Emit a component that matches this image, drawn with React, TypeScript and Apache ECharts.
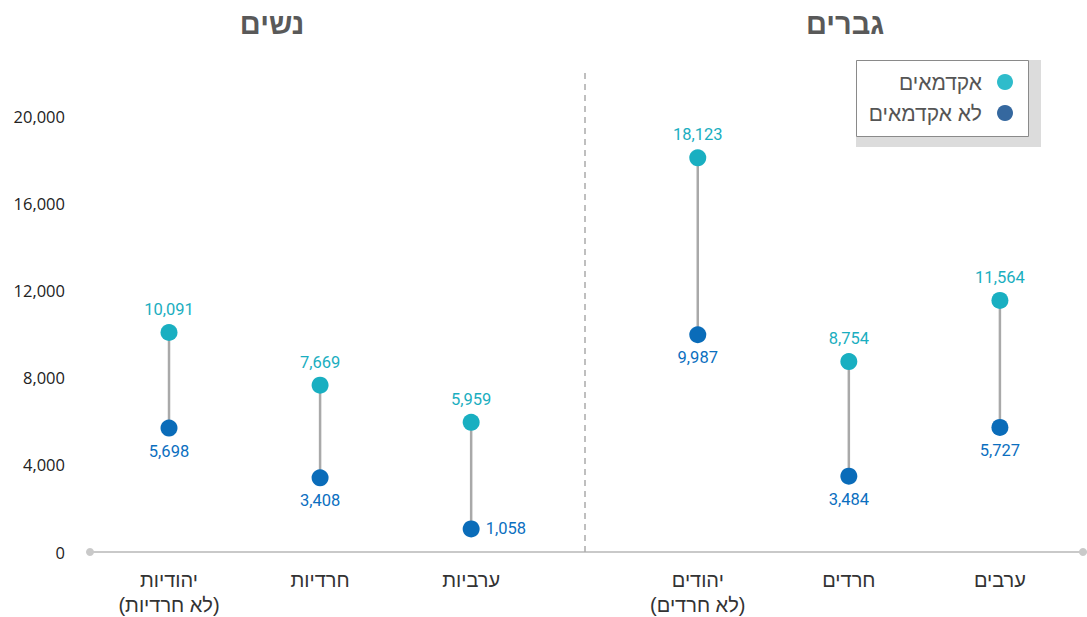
import React, { useEffect, useRef } from "react";
import * as echarts from "echarts";

const categories = ["יהודיות\n(לא חרדיות)", "חרדיות", "ערביות", "יהודים\n(לא חרדים)", "חרדים", "ערבים"];
const xPositions = [0, 1, 2, 3.5, 4.5, 5.5];
const academic = [10091, 7669, 5959, 18123, 8754, 11564];
const nonAcademic = [5698, 3408, 1058, 9987, 3484, 5727];
const seriesNames = ["אקדמאים", "לא אקדמאים"];
const groupTitles = ["נשים", "גברים"];
const dividerX = 2.75;

const HEB = "'Liberation Sans', Arial, sans-serif";
const NUM = "Roboto, 'Open Sans', sans-serif";
const AXISNUM = "'Open Sans', sans-serif";
const TEAL = "#19afc1";
const BLUE = "#0a6cb9";

export default function App() {
  const ref = useRef<HTMLDivElement>(null);
  useEffect(() => {
    if (!ref.current) return;
    const chart = echarts.init(ref.current, null, { renderer: "svg" });
    const fmt = (v: number) => v.toLocaleString("en-US");
    const option: any = {
      animation: false,
      textStyle: { fontFamily: HEB },
      grid: { left: 90, right: 4, top: 68, bottom: 63 },
      xAxis: {
        type: "value",
        min: -0.523,
        max: 6.05,
        splitLine: { show: false },
        axisTick: { show: false },
        axisLine: {
          show: true,
          symbol: ["circle", "circle"],
          symbolSize: [8, 8],
          lineStyle: { color: "#c9c9c9", width: 2 },
        },
        axisLabel: {
          customValues: xPositions,
          formatter: (v: number) => {
            const i = xPositions.findIndex((p) => Math.abs(p - v) < 1e-6);
            return i >= 0 ? categories[i] : "";
          },
          color: "#333",
          fontSize: 20,
          lineHeight: 25,
          margin: 15,
          fontFamily: HEB,
        },
      },
      yAxis: {
        type: "value",
        min: 0,
        max: 22250,
        interval: 4000,
        splitLine: { show: false },
        axisTick: { show: false },
        axisLine: { show: false },
        axisLabel: {
          showMaxLabel: false,
          formatter: (v: number) => fmt(v),
          color: "#222",
          fontSize: 16.5,
          margin: 25,
          fontFamily: AXISNUM,
        },
      },
      legend: {
        orient: "vertical",
        align: "right",
        right: 74,
        top: 70,
        padding: 0,
        itemWidth: 16,
        itemHeight: 16,
        itemGap: 7,
        icon: "circle",
        z: 10,
        textStyle: { color: "#555", fontSize: 21, lineHeight: 24, fontFamily: HEB, padding: [0, 10, 0, 0] },
        data: [
          { name: seriesNames[0], itemStyle: { color: "#2fbccb" } },
          { name: seriesNames[1], itemStyle: { color: "#35689f" } },
        ],
      },
      graphic: [
        { type: "rect", z: 1, shape: { x: 856, y: 60, width: 185, height: 87 }, style: { fill: "#dcdcdc" } },
        { type: "rect", z: 2, shape: { x: 856.5, y: 60.5, width: 172, height: 76 }, style: { fill: "#fff", stroke: "#8a8a8a", lineWidth: 1 } },
        { type: "text", z: 3, x: 272, y: 24, style: { text: groupTitles[0], fill: "#595959", fontSize: 29, fontWeight: "bold", fontFamily: HEB, align: "center", verticalAlign: "middle" } },
        { type: "text", z: 3, x: 845, y: 24, style: { text: groupTitles[1], fill: "#595959", fontSize: 29, fontWeight: "bold", fontFamily: HEB, align: "center", verticalAlign: "middle" } },
      ],
      series: [
        {
          type: "custom",
          name: "range",
          z: 1,
          silent: true,
          data: xPositions.map((x, i) => [x, nonAcademic[i], academic[i]]),
          renderItem: (params: any, api: any) => {
            const p1 = api.coord([api.value(0), api.value(1)]);
            const p2 = api.coord([api.value(0), api.value(2)]);
            return {
              type: "line",
              shape: { x1: p1[0], y1: p1[1], x2: p2[0], y2: p2[1] },
              style: { stroke: "#a9a9a9", lineWidth: 2.5 },
            };
          },
          markLine: {
            silent: true,
            symbol: ["none", "none"],
            label: { show: false },
            lineStyle: { color: "#aaa", type: [6, 5], width: 1.5 },
            data: [{ xAxis: dividerX }],
          },
        },
        {
          type: "scatter",
          name: seriesNames[0],
          z: 3,
          symbolSize: 17,
          itemStyle: { color: TEAL, opacity: 1 },
          label: { show: true, position: "top", distance: 6, color: "#1aaec0", fontSize: 16.5, fontFamily: NUM, formatter: (p: any) => fmt(p.value[1]) },
          data: xPositions.map((x, i) => [x, academic[i]]),
        },
        {
          type: "scatter",
          name: seriesNames[1],
          z: 3,
          symbolSize: 17,
          itemStyle: { color: BLUE, opacity: 1 },
          label: { show: true, position: "bottom", distance: 6, color: "#0b6fbf", fontSize: 16.5, fontFamily: NUM, formatter: (p: any) => fmt(p.value[1]) },
          data: xPositions.map((x, i) =>
            i === 2
              ? { value: [x, nonAcademic[i]], label: { position: "right", distance: 6 } }
              : [x, nonAcademic[i]]
          ),
        },
      ],
    };
    chart.setOption(option);
    return () => chart.dispose();
  }, []);
  return <div ref={ref} style={{ position: "absolute", left: 0, top: 0, width: 1087, height: 617 }} />;
}
